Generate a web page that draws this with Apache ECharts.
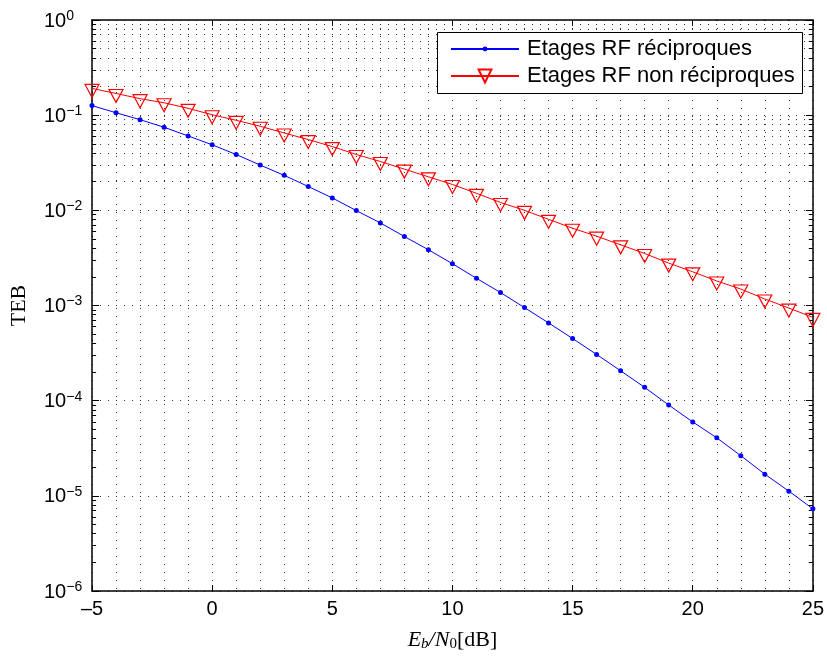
<!DOCTYPE html>
<html>
<head>
<meta charset="utf-8">
<script src="https://cdn.jsdelivr.net/npm/echarts@6/dist/echarts.min.js"></script>
<style>html,body{margin:0;padding:0;background:#fff;}#c{width:827px;height:657px;}</style>
</head>
<body>
<div id="c"></div>
<script>
// ---- data ----
const ebn0 = [-5,-4,-3,-2,-1,0,1,2,3,4,5,6,7,8,9,10,11,12,13,14,15,16,17,18,19,20,21,22,23,24,25];
const tebReciproques = [0.126,0.106,0.0897,0.0746,0.0605,0.0488,0.0386,0.0299,0.0233,0.0178,0.0135,0.00993,0.00738,0.00531,0.00385,0.00275,0.00193,0.00137,0.00095,0.000656,0.00045,0.000306,0.000206,0.000138,9.0e-5,5.98e-5,4.07e-5,2.64e-5,1.69e-5,1.12e-5,7.3e-6];
const tebNonReciproques = [0.191,0.169,0.149,0.135,0.118,0.101,0.0883,0.0765,0.065,0.0554,0.0468,0.0386,0.0326,0.0271,0.0225,0.0187,0.0151,0.0121,0.0100,0.00805,0.00648,0.00535,0.00434,0.00352,0.00279,0.00226,0.00181,0.00149,0.00117,0.00094,0.00075];
const seriesNames = ['Etages RF réciproques', 'Etages RF non réciproques'];

// minor gridline positions of the log axis (2..9 per decade)
const minorY = [];
for (let d = -6; d < 0; d++) for (let k = 2; k <= 9; k++) minorY.push(k * Math.pow(10, d));

const dotted = { color: '#333', width: 1, type: [1, 7] };
const xMin = -5, xMax = 25;

const markData = [];
minorY.forEach(v => markData.push({ yAxis: v, lineStyle: dotted }));
// minor ticks on left and right edges
minorY.forEach(v => {
  markData.push([{ coord: [xMin, v], lineStyle: { color: '#000', width: 1, type: 'solid' } }, { coord: [xMin + 0.17, v] }]);
  markData.push([{ coord: [xMax - 0.17, v], lineStyle: { color: '#000', width: 1, type: 'solid' } }, { coord: [xMax, v] }]);
});

const supMinus = n => (n < 0 ? '\u2212' + (-n) : String(n));
const yLabelFmt = v => {
  const e = Math.round(Math.log10(v));
  return '{b|10}{s|' + supMinus(e) + '}';
};

const chart = echarts.init(document.getElementById('c'), null, { renderer: 'canvas' });
const font = 'Liberation Sans, Arial, Helvetica, sans-serif';
const serif = 'Liberation Serif, Times New Roman, DejaVu Serif, serif';
const legendText = { fontFamily: font, fontSize: 22, color: '#000', padding: [0, 0, 0, 3] };

chart.setOption({
  animation: false,
  backgroundColor: '#fff',
  grid: { left: 86, right: 14, top: 20, bottom: 63, containLabel: false },
  graphic: [{
    type: 'rect', left: 437, top: 32, z: 100,
    shape: { width: 365, height: 61 },
    style: { fill: '#fff', stroke: '#000', lineWidth: 1 }
  }],
  legend: [{
    data: [seriesNames[0]],
    left: 450, top: 38, padding: 0, z: 101,
    itemWidth: 68, itemHeight: 6,
    textStyle: legendText
  }, {
    data: [seriesNames[1]],
    left: 450, top: 65, padding: 0, z: 101,
    itemWidth: 68, itemHeight: 16,
    textStyle: legendText
  }],
  xAxis: [{
    type: 'value', min: xMin, max: xMax, interval: 5,
    position: 'bottom',
    name: '{i|E}{sub|b}{i|/N}{sub2|0}{n|[dB]}',
    nameLocation: 'middle', nameGap: 38,
    nameTextStyle: {
      rich: {
        i: { fontFamily: serif, fontStyle: 'italic', fontSize: 22, color: '#000' },
        sub: { fontFamily: serif, fontStyle: 'italic', fontSize: 15, color: '#000', verticalAlign: 'bottom', padding: [8, 0, 0, 0] },
        sub2: { fontFamily: serif, fontSize: 15, color: '#000', verticalAlign: 'bottom', padding: [8, 0, 0, 0] },
        n: { fontFamily: serif, fontSize: 22, color: '#000' }
      }
    },
    axisLine: { show: true, onZero: false, lineStyle: { color: '#000', width: 1.5 } },
    axisTick: { show: true, inside: true, length: 6, lineStyle: { color: '#000' } },
    axisLabel: { fontFamily: font, fontSize: 20, color: '#000', margin: 8,
      formatter: v => (v < 0 ? '\u2013' + (-v) : String(v)) },
    splitLine: { show: true, lineStyle: dotted },
    minorTick: { show: false, splitNumber: 5 },
    minorSplitLine: { show: true, lineStyle: dotted }
  }, {
    type: 'value', min: xMin, max: xMax, interval: 5,
    position: 'top',
    axisLine: { show: true, onZero: false, lineStyle: { color: '#000', width: 1.5 } },
    axisTick: { show: true, inside: true, length: 6, lineStyle: { color: '#000' } },
    axisLabel: { show: false },
    splitLine: { show: false }
  }],
  yAxis: [{
    type: 'log', logBase: 10, min: 1e-6, max: 1,
    position: 'left',
    name: 'TEB', nameLocation: 'middle', nameGap: 62, nameRotate: 90,
    nameTextStyle: { fontFamily: serif, fontSize: 22, color: '#000' },
    axisLine: { show: true, onZero: false, lineStyle: { color: '#000', width: 1.5 } },
    axisTick: { show: true, inside: true, length: 7, lineStyle: { color: '#000' } },
    axisLabel: {
      formatter: yLabelFmt, align: 'left', margin: 48,
      rich: {
        b: { fontFamily: font, fontSize: 20, color: '#000', lineHeight: 22, verticalAlign: 'bottom' },
        s: { fontFamily: font, fontSize: 14, color: '#000', lineHeight: 14, verticalAlign: 'top' }
      }
    },
    splitLine: { show: true, lineStyle: dotted }
  }, {
    type: 'log', logBase: 10, min: 1e-6, max: 1,
    position: 'right',
    axisLine: { show: true, onZero: false, lineStyle: { color: '#000', width: 1.5 } },
    axisTick: { show: true, inside: true, length: 7, lineStyle: { color: '#000' } },
    axisLabel: { show: false },
    splitLine: { show: false }
  }],
  series: [{
    name: 'grid',
    type: 'line',
    data: [],
    silent: true,
    markLine: { silent: true, symbol: ['none', 'none'], label: { show: false }, animation: false, data: markData }
  }, {
    name: seriesNames[0],
    type: 'line',
    data: ebn0.map((x, i) => [x, tebReciproques[i]]),
    color: '#0000ff',
    lineStyle: { color: '#0000ff', width: 1 },
    itemStyle: { color: '#0000ff' },
    symbol: 'circle', symbolSize: 5,
    showSymbol: true, z: 5
  }, {
    name: seriesNames[1],
    type: 'line',
    data: ebn0.map((x, i) => [x, tebNonReciproques[i]]),
    color: '#ff0000',
    lineStyle: { color: '#ff0000', width: 1 },
    itemStyle: { color: 'rgba(255,255,255,0)', borderColor: '#ff0000', borderWidth: 1.2 },
    symbol: 'path://M0,0 L20,0 L10,18 Z', symbolSize: [14, 13], symbolOffset: [0, 2.5],
    showSymbol: true, z: 6
  }]
});
</script>
</body>
</html>
